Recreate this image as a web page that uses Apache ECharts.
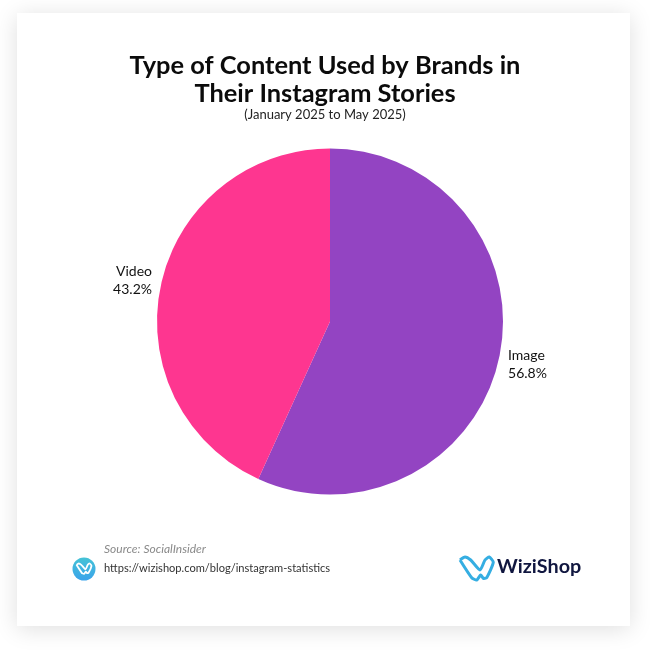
<!DOCTYPE html>
<html>
<head>
<meta charset="utf-8">
<title>Instagram stories content</title>
<script src="https://cdn.jsdelivr.net/npm/echarts@6/dist/echarts.min.js"></script>
<style>
html,body{margin:0;padding:0;background:#fff;}
#chart{width:650px;height:650px;}
</style>
</head>
<body>
<div id="chart"></div>
<script>
var categories = ['Image', 'Video'];
var shares = [56.8, 43.2];
var colors = ['#9344c2', '#fe3690'];

var titleLines = 'Type of Content Used by Brands in\nTheir Instagram Stories';
var subtitle = '(January 2025 to May 2025)';
var sourceText = 'Source: SocialInsider';
var linkText = 'https://wizishop.com/blog/instagram-statistics';
var brandText = 'WiziShop';
var font = 'Lato, "Noto Sans", sans-serif';

// outline of the w in the logo, 34 wide and 23 high
var logoW = [[0,3],[11.7,20.7],[16.7,23],[20.7,18],[23.3,21.3],[26.7,20.7],[33.3,5.3],[29.3,0],[25,3],[20,13],[10.7,3],[5,0],[0,3]];

function logoPoints(x, y, k) {
    return logoW.map(function (p) { return [x + p[0] * k, y + p[1] * k]; });
}

var chart = echarts.init(document.getElementById('chart'));

var pieData = [];
for (var i = 0; i < categories.length; i++) {
    pieData.push({name: categories[i], value: shares[i], itemStyle: {color: colors[i]}});
}

chart.setOption({
    animation: false,
    backgroundColor: '#ffffff',
    title: [
        {
            text: titleLines, left: 'center', top: 52, padding: 0,
            textStyle: {fontFamily: font, fontSize: 25.4, fontWeight: 700, color: '#0b0b0b', lineHeight: 28}
        },
        {
            text: subtitle, left: 'center', top: 108, padding: 0,
            textStyle: {fontFamily: font, fontSize: 13, fontWeight: 400, color: '#222222'}
        }
    ],
    series: [{
        type: 'pie',
        center: [330, 321.5],
        radius: [0, 173],
        startAngle: 90,
        clockwise: true,
        z: 5,
        data: pieData,
        label: {
            position: 'outside',
            formatter: '{b}\n{c}%',
            fontFamily: font,
            fontSize: 14,
            lineHeight: 17.5,
            color: '#111111',
            align: 'center'
        },
        labelLine: {show: false, length: 2, length2: 2},
        labelLayout: function (params) {
            return {dy: params.dataIndex === 0 ? 6 : -4};
        },
        emphasis: {disabled: true}
    }],
    graphic: [
        {
            type: 'rect', z: -10, silent: true,
            shape: {x: 17, y: 13, width: 613, height: 613},
            style: {fill: '#ffffff', shadowBlur: 22, shadowColor: 'rgba(0,0,0,0.13)', shadowOffsetY: 3}
        },
        {
            type: 'text', x: 104, y: 543,
            style: {text: sourceText, fontFamily: font, fontSize: 12, fontStyle: 'italic', fill: '#8a8a8a'}
        },
        {
            type: 'text', x: 104, y: 563,
            style: {text: linkText, fontFamily: font, fontSize: 11.1, fill: '#333333'}
        },
        {
            type: 'circle', silent: true,
            shape: {cx: 84, cy: 569, r: 11.5},
            style: {fill: new echarts.graphic.LinearGradient(0, 0, 0, 1, [
                {offset: 0, color: '#45c3d6'},
                {offset: 1, color: '#3aa3ea'}
            ])}
        },
        {
            type: 'polyline', silent: true,
            shape: {points: logoPoints(76.5, 563.5, 0.45), smooth: 0.2},
            style: {fill: 'none', stroke: '#ffffff', lineWidth: 1.8, lineJoin: 'round'}
        },
        {
            type: 'polyline', silent: true,
            shape: {points: logoPoints(460, 557, 1), smooth: 0.2},
            style: {fill: 'none', stroke: '#35aee2', lineWidth: 3, lineJoin: 'round'}
        },
        {
            type: 'text', x: 497, y: 557,
            style: {text: brandText, fontFamily: font, fontSize: 19.8, fontWeight: 700, fill: '#10163f'}
        }
    ]
});
</script>
</body>
</html>
